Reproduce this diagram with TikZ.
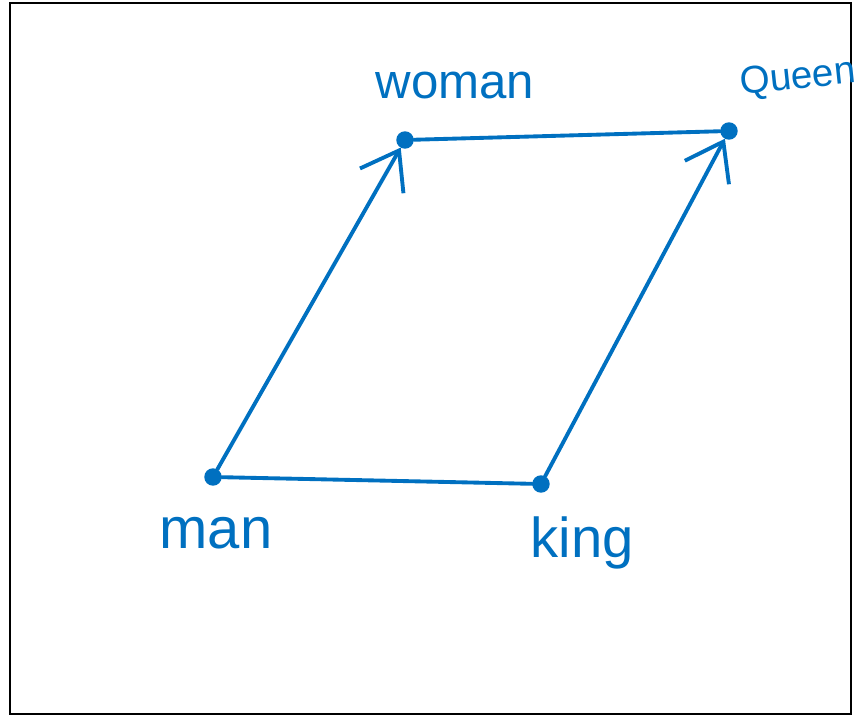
\documentclass[tikz,border=0pt]{standalone}
\usepackage{fontspec}
\setmainfont{Liberation Sans}
\usetikzlibrary{arrows.meta,positioning}
\definecolor{pen}{RGB}{0,112,192}

\begin{document}
\begin{tikzpicture}[dot/.style={circle, fill=pen, draw=pen, inner sep=0pt, minimum size=1.6mm}, lbl/.style={text=pen, font=\fontsize{15}{18}\selectfont, inner sep=1pt}, vec/.style={draw=pen, line width=1.1pt, line cap=round, -{Straight Barb[length=3.5mm, width=5mm, line width=1.1pt]}}, seg/.style={draw=pen, line width=1.1pt, line cap=round}]
\useasboundingbox (0,0) rectangle (8.63,7.15);
\draw[line width=0.7pt] (0.10,0.01) rectangle (8.51,7.12);
\node[dot] (man) at (2.13,2.38) {};
\node[dot] (king) at (5.41,2.31) {};
\node[dot] (woman) at (4.05,5.75) {};
\node[dot] (queen) at (7.29,5.84) {};
\node[lbl, font=\fontsize{16.5}{18}\selectfont] (manlbl) at (2.16,1.82) {man};
\node[lbl, font=\fontsize{16}{18}\selectfont] (kinglbl) at (5.82,1.72) {king};
\node[lbl, font=\fontsize{14}{18}\selectfont] (womanlbl) at (4.55,6.30) {woman};
\node[lbl, font=\fontsize{11}{14}\selectfont, rotate=6] (queenlbl) at (7.98,6.36) {Queen};
\draw[seg] (man) -- (king);
\draw[seg] (woman) -- (queen);
\draw[vec] (man) -- (woman);
\draw[vec] (king) -- (queen);
\end{tikzpicture}
\end{document}
